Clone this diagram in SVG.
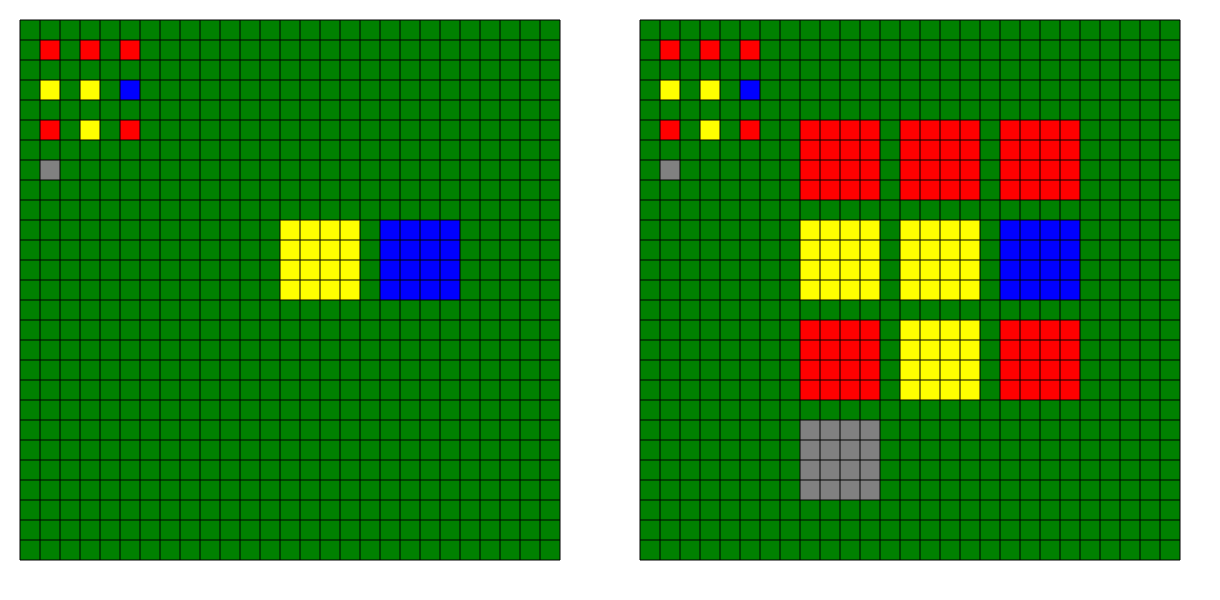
<svg xmlns="http://www.w3.org/2000/svg" xmlns:xlink="http://www.w3.org/1999/xlink" width="1220" height="600" viewBox="0 0 1220 600">
<style>
.g{fill:#008000}.r{fill:#ff0000}.y{fill:#ffff00}.b{fill:#0000ff}.k{fill:#808080}
.grid{fill:none;stroke:#000;stroke-width:1}
</style>
<defs>
<path id="lines" class="grid" d="M20 20V560M40 20V560M60 20V560M80 20V560M100 20V560M120 20V560M140 20V560M160 20V560M180 20V560M200 20V560M220 20V560M240 20V560M260 20V560M280 20V560M300 20V560M320 20V560M340 20V560M360 20V560M380 20V560M400 20V560M420 20V560M440 20V560M460 20V560M480 20V560M500 20V560M520 20V560M540 20V560M560 20V560M20 20H560M20 40H560M20 60H560M20 80H560M20 100H560M20 120H560M20 140H560M20 160H560M20 180H560M20 200H560M20 220H560M20 240H560M20 260H560M20 280H560M20 300H560M20 320H560M20 340H560M20 360H560M20 380H560M20 400H560M20 420H560M20 440H560M20 460H560M20 480H560M20 500H560M20 520H560M20 540H560M20 560H560"/>
</defs>
<g id="input-grid">
<rect class="g" x="20" y="20" width="540" height="540"/>
<g id="input-seed">
<rect class="r" x="40" y="40" width="20" height="20"/>
<rect class="r" x="80" y="40" width="20" height="20"/>
<rect class="r" x="120" y="40" width="20" height="20"/>
<rect class="y" x="40" y="80" width="20" height="20"/>
<rect class="y" x="80" y="80" width="20" height="20"/>
<rect class="b" x="120" y="80" width="20" height="20"/>
<rect class="r" x="40" y="120" width="20" height="20"/>
<rect class="y" x="80" y="120" width="20" height="20"/>
<rect class="r" x="120" y="120" width="20" height="20"/>
<rect class="k" x="40" y="160" width="20" height="20"/>
</g>
<g id="input-yellow-block"><rect class="y" x="280" y="220" width="80" height="80"/></g>
<g id="input-blue-block"><rect class="b" x="380" y="220" width="80" height="80"/></g>
<use xlink:href="#lines"/>
</g>
<g id="output-grid">
<rect class="g" x="640" y="20" width="540" height="540"/>
<g id="output-seed">
<rect class="r" x="660" y="40" width="20" height="20"/>
<rect class="r" x="700" y="40" width="20" height="20"/>
<rect class="r" x="740" y="40" width="20" height="20"/>
<rect class="y" x="660" y="80" width="20" height="20"/>
<rect class="y" x="700" y="80" width="20" height="20"/>
<rect class="b" x="740" y="80" width="20" height="20"/>
<rect class="r" x="660" y="120" width="20" height="20"/>
<rect class="y" x="700" y="120" width="20" height="20"/>
<rect class="r" x="740" y="120" width="20" height="20"/>
<rect class="k" x="660" y="160" width="20" height="20"/>
</g>
<g id="output-blocks">
<rect class="r" x="800" y="120" width="80" height="80"/>
<rect class="r" x="900" y="120" width="80" height="80"/>
<rect class="r" x="1000" y="120" width="80" height="80"/>
<rect class="y" x="800" y="220" width="80" height="80"/>
<rect class="y" x="900" y="220" width="80" height="80"/>
<rect class="b" x="1000" y="220" width="80" height="80"/>
<rect class="r" x="800" y="320" width="80" height="80"/>
<rect class="y" x="900" y="320" width="80" height="80"/>
<rect class="r" x="1000" y="320" width="80" height="80"/>
<rect class="k" x="800" y="420" width="80" height="80"/>
</g>
<use xlink:href="#lines" transform="translate(620 0)"/>
</g>
</svg>
